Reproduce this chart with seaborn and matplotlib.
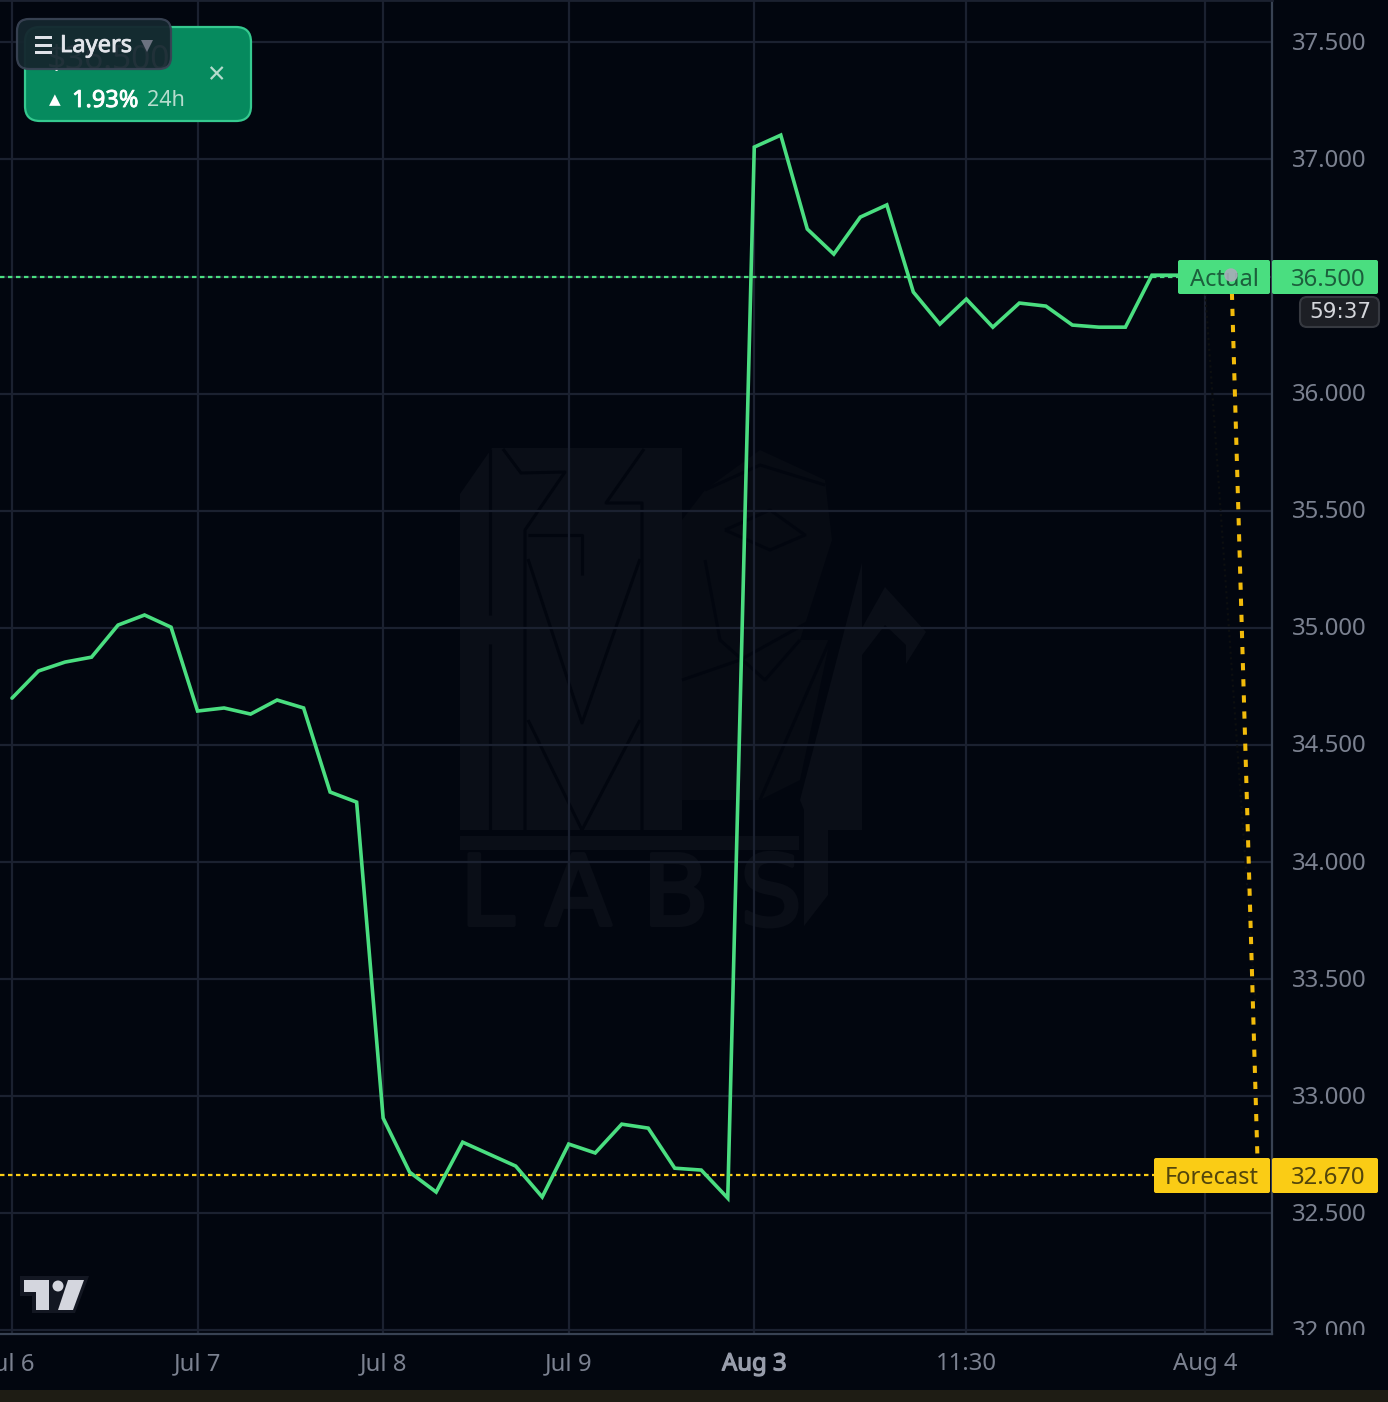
# -*- coding: utf-8 -*-
import matplotlib
matplotlib.use('Agg')
import matplotlib.patheffects as pe
import matplotlib.pyplot as plt
from matplotlib.patches import Circle, FancyBboxPatch, Polygon, Rectangle
from matplotlib.transforms import ScaledTranslation
import pandas as pd
import seaborn as sns

# price line, one value per bar
bars = list(range(45))
prices = [34.70, 34.816, 34.854, 34.875, 35.012, 35.055, 35.003,
          34.645, 34.658, 34.632, 34.692, 34.658, 34.299, 34.256,
          32.907, 32.676, 32.591, 32.804, 32.753, 32.702, 32.57,
          32.796, 32.758, 32.881, 32.864, 32.693, 32.685, 32.565,
          37.053, 37.104, 36.703, 36.596, 36.754, 36.806, 36.434,
          36.297, 36.404, 36.284, 36.387, 36.374, 36.293, 36.284,
          36.284, 36.506, 36.506]
forecast_bars = [46, 47]
forecast_prices = [36.5, 32.665]
actual_level = 36.5
forecast_level = 32.665

y_ticks = [32.0, 32.5, 33.0, 33.5, 34.0, 34.5, 35.0, 35.5, 36.0, 36.5, 37.0, 37.5]
y_labels = ['32.000', '32.500', '33.000', '33.500', '34.000', '34.500',
            '35.000', '35.500', '36.000', '', '37.000', '37.500']
x_ticks = [0, 7, 14, 21, 28, 36, 45]
x_labels = ['Jul 6', 'Jul 7', 'Jul 8', 'Jul 9', 'Aug 3', '11:30', 'Aug 4']

BG = '#02060f'
GRID = '#1b2130'
EDGE = '#384253'
TICK = '#7b8190'
GREEN = '#4ade80'
YELLOW = '#facc15'
WM = '#0a0e17'
WM2 = '#070b13'

sns.set_theme(style='dark', rc={
    'figure.facecolor': BG,
    'axes.facecolor': BG,
    'axes.edgecolor': EDGE,
    'grid.color': GRID,
})
plt.rcParams['font.family'] = ['Noto Sans', 'DejaVu Sans']

fig = plt.figure(figsize=(13.88, 14.02), dpi=100)
ax = fig.add_axes([0, 1 - 1334 / 1402, 1272 / 1388, 1334 / 1402])


def bolder(width, color):
    return [pe.withStroke(linewidth=width, foreground=color)]


# faint watermark layer, in image pixels
wm = fig.add_axes([0, 0, 1, 1], zorder=0)
wm.set_xlim(0, 1388)
wm.set_ylim(1402, 0)
wm.axis('off')
ax.set_zorder(1)
ax.patch.set_alpha(0)
for shape, shade in [
    ([(460, 494), (492, 448), (682, 448), (682, 830), (460, 830)], WM),
    ([(682, 520), (705, 490), (760, 450), (825, 480), (832, 540), (800, 640),
      (830, 640), (800, 780), (760, 800), (682, 800)], WM2),
    ([(862, 563), (862, 628), (885, 587), (926, 632), (906, 664), (906, 645),
      (885, 625), (862, 655), (862, 830), (828, 830), (828, 895), (804, 926),
      (804, 810), (800, 800)], WM),
    ([(460, 836), (799, 836), (799, 850), (460, 850)], WM),
]:
    wm.add_patch(Polygon(shape, closed=True, color=shade, lw=0))
for path in [
    [(490, 449), (490, 615)], [(490, 644), (490, 830)],
    [(525, 830), (525, 530), (565, 472), (521, 473), (503, 449)],
    [(528, 535), (582, 535), (582, 575)],
    [(528, 559), (582, 723), (640, 559)],
    [(528, 720), (582, 830), (640, 720)],
    [(644, 449), (606, 503), (642, 503), (642, 830)],
    [(705, 560), (720, 640), (765, 680), (800, 640)],
    [(725, 530), (770, 510), (805, 535), (770, 550), (725, 530)],
    [(705, 490), (760, 465), (825, 485)],
    [(682, 680), (740, 660), (830, 610)],
    [(760, 800), (830, 640)],
]:
    xs, ys = zip(*path)
    wm.plot(xs, ys, color=BG, lw=2.2, solid_capstyle='butt')
wm.text(460, 925, 'L A B S', color=WM, fontsize=70, family='DejaVu Sans',
        ha='left', va='baseline', path_effects=bolder(3, WM))

# price and forecast lines
df = pd.DataFrame({'bar': bars, 'price': prices})
df_fc = pd.DataFrame({'bar': forecast_bars, 'price': forecast_prices})
ax.axhline(actual_level, color=GREEN, lw=1.6, ls=(0, (2, 1.6)), zorder=2)
ax.axhline(forecast_level, color=YELLOW, lw=1.6, ls=(0, (2, 1.6)), zorder=2)
sns.lineplot(data=df, x='bar', y='price', ax=ax, color=GREEN, lw=2.6,
             solid_joinstyle='miter', zorder=3)
sns.lineplot(data=df_fc, x='bar', y='price', ax=ax, color='#f2bb0b', lw=2.9,
             ls=(0, (1.8, 2.2)), zorder=3)
ax.plot([45, 46.9], [36.45, 33.4], color='#0d0f10', lw=1.5, ls=':', zorder=2)

ax.set_xlim(-0.4527, 47.53)
ax.set_ylim(31.985, 37.681)
ax.set_xlabel('')
ax.set_ylabel('')
ax.grid(True, color=GRID, lw=1.6)
ax.set_axisbelow(True)
ax.yaxis.tick_right()
ax.set_yticks(y_ticks)
ax.set_yticklabels(y_labels)
ax.set_xticks(x_ticks)
ax.set_xticklabels(x_labels)
ax.tick_params(axis='y', length=0, pad=14, labelsize=17.2, labelcolor=TICK)
ax.tick_params(axis='x', length=0, pad=13.2, labelsize=17.2, labelcolor=TICK)
nudge = ScaledTranslation(0, 1.5 / 100, fig.dpi_scale_trans)
for label in ax.get_yticklabels():
    label.set_transform(label.get_transform() + nudge)
aug3 = ax.get_xticklabels()[4]
aug3.set_color('#989dab')
aug3.set_path_effects(bolder(0.9, '#989dab'))
ax.spines['left'].set_visible(False)
ax.spines['top'].set_color(GRID)
ax.spines['top'].set_linewidth(2)
ax.spines['right'].set_linewidth(1.6)
ax.spines['bottom'].set_linewidth(1.6)

# overlay widgets, in image pixels
ui = fig.add_axes([0, 0, 1, 1], zorder=5)
ui.set_xlim(0, 1388)
ui.set_ylim(1402, 0)
ui.axis('off')


def box(x0, y0, x1, y1, color, edge='none', r=2.0, lw=0.0, alpha=None, z=3):
    p = FancyBboxPatch((x0 + r, y0 + r), x1 - x0 - 2 * r, y1 - y0 - 2 * r,
                       boxstyle='round,pad=%s,rounding_size=%s' % (r, r),
                       fc=color, ec=edge, lw=lw, alpha=alpha, zorder=z)
    ui.add_patch(p)


# clip the lowest price label and add the bottom strip
ui.add_patch(Rectangle((1276, 1335), 112, 14, color=BG, lw=0))
ui.add_patch(Rectangle((0, 1390), 1388, 12, color='#1e1c14', lw=0))

# price tags
box(1178, 260, 1270, 294, GREEN)
box(1272, 260, 1378, 294, GREEN)
ui.text(1224, 280, 'Actual', color='#1c5f3c', fontsize=17, ha='center', va='center', zorder=4)
ui.text(1328.5, 280, '36.500', color='#1c5f3c', fontsize=17.2, ha='center', va='center', zorder=4)
ui.add_patch(Circle((1231, 275), 6, color='#a7abb8', alpha=0.9, zorder=5))
box(1154, 1158, 1270, 1193, YELLOW)
box(1272, 1158, 1378, 1193, YELLOW)
ui.text(1212, 1178, 'Forecast', color='#52450c', fontsize=17, ha='center', va='center', zorder=4)
ui.text(1328.5, 1178, '32.670', color='#52450c', fontsize=17.2, ha='center', va='center', zorder=4)
box(1300, 297, 1379, 327, '#1d1f25', edge='#363940', r=7, lw=1.5)
ui.text(1340, 312, '59:37', color='#d5d7dc', fontsize=15.5, family='DejaVu Sans',
        ha='center', va='center', zorder=4)

# green card with Layers button on top
box(25, 27, 251, 121, '#068a5e', edge='#35c98f', r=15, lw=1.6, z=2)
ui.text(47, 69, '$36.500', color='#ffffff', fontsize=24, ha='left', va='baseline', zorder=2.5)
ui.text(49, 100, '▲', color='white', fontsize=11, family='DejaVu Sans', ha='left', va='center', zorder=4)
ui.text(72, 101, '1.93%', color='white', fontsize=17, ha='left', va='center', zorder=4,
        path_effects=bolder(0.6, 'white'))
ui.text(147, 101, '24h', color='#b5dccd', fontsize=15.5, ha='left', va='center', zorder=4)
ui.text(216, 76, '×', color='#b5dccd', fontsize=22, ha='center', va='center', zorder=4)
box(17, 19, 171, 69, '#15262e', edge='#394354', r=12, lw=1.6, alpha=0.95, z=3)
for y_bar in [37, 45, 52]:
    ui.add_patch(Rectangle((35, y_bar - 1.5), 17, 3, color='#dfe2e8', lw=0, zorder=4))
ui.text(60, 46, 'Layers', color='#e2e5ea', fontsize=17, ha='left', va='center', zorder=4,
        path_effects=bolder(0.6, '#e2e5ea'))
ui.add_patch(Polygon([(141, 40), (153, 40), (147, 52)], closed=True, color='#6c7280', lw=0, zorder=4))

# chart library logo
ui.add_patch(Polygon([(20, 1276), (89, 1276), (75, 1313), (32, 1313), (32, 1296), (20, 1296)],
                     closed=True, color='#131722', lw=0))
logo = '#d4d6de'
ui.add_patch(Polygon([(24, 1280), (49, 1280), (49, 1310), (36, 1310), (36, 1292), (24, 1292)],
                     closed=True, color=logo, lw=0))
ui.add_patch(Circle((58, 1286), 5.5, color=logo, lw=0))
ui.add_patch(Polygon([(68, 1280), (84, 1280), (73, 1310), (58, 1310)], closed=True, color=logo, lw=0))

fig.savefig('out.png', dpi=100, facecolor=BG)
